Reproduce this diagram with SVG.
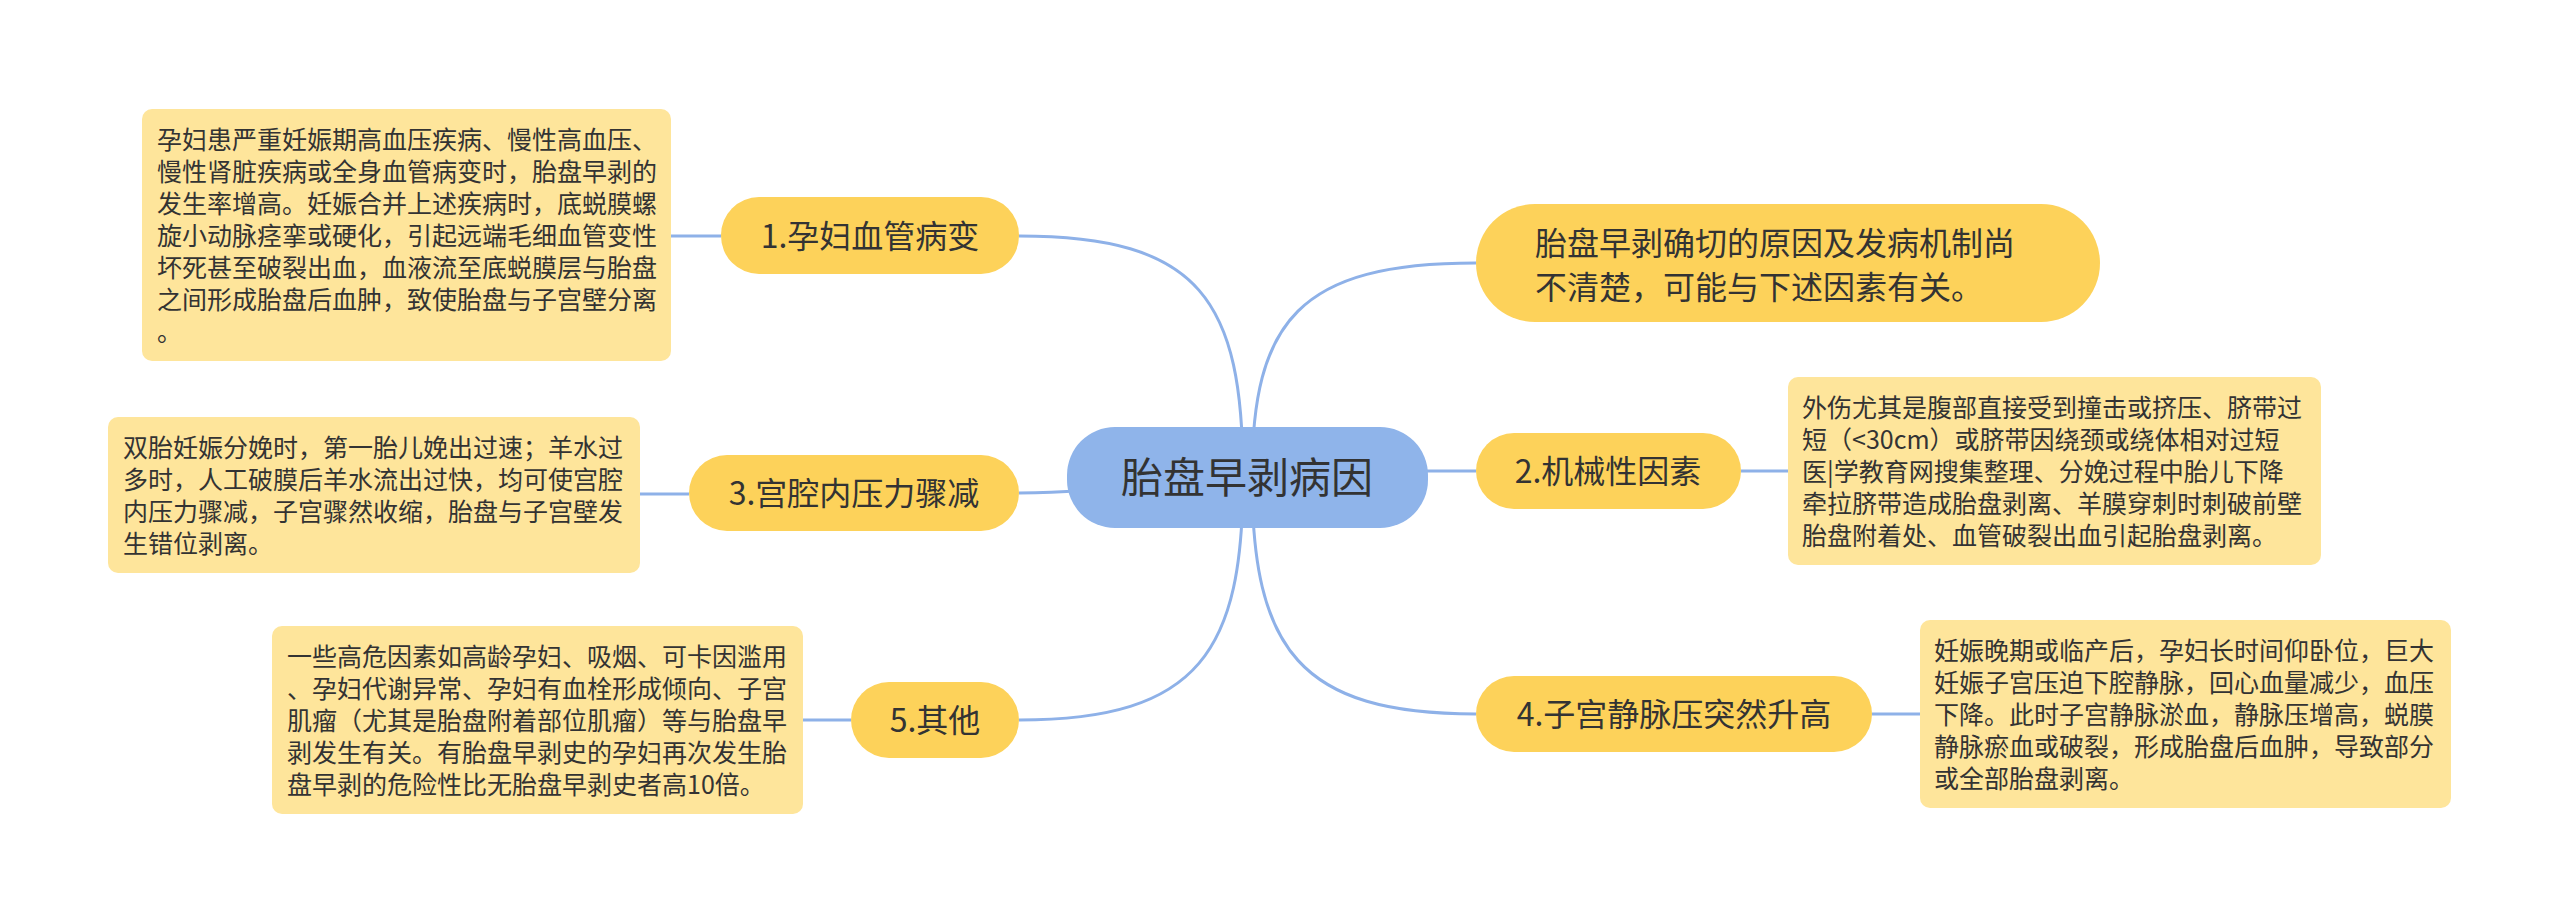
<svg xmlns="http://www.w3.org/2000/svg" width="2560" height="923" viewBox="0 0 2560 923">
<style>
text{font-family:"Noto Sans CJK SC","Noto Sans",sans-serif;fill:#333}
.edge{fill:none;stroke:#8EB1E8;stroke-width:3}
.box{fill:#FEE59B}
.br{fill:#FDD25A}
.t25{font-size:25px}
.t32{font-size:32px}
.mid{text-anchor:middle}
</style>
<rect width="2560" height="923" fill="#fff"/>
<g id="connectors">
<path class="edge" d="M1243,477 C1243,300 1200,236 1019,236"/>
<path class="edge" d="M1252,477 C1252,320 1300,263 1476,263"/>
<path class="edge" d="M1247,477 C1140,477 1120,493 1019,493"/>
<path class="edge" d="M1247,471 L1476,471"/>
<path class="edge" d="M1243,477 C1243,650 1200,720 1019,720"/>
<path class="edge" d="M1252,477 C1252,650 1300,714 1476,714"/>
<path class="edge" d="M721,236 L671,236"/>
<path class="edge" d="M689,494 L640,494"/>
<path class="edge" d="M851,720 L803,720"/>
<path class="edge" d="M1741,471 L1788,471"/>
<path class="edge" d="M1872,714 L1920,714"/>
</g>
<g id="root">
<rect x="1067" y="427" width="361" height="101" rx="48" fill="#8FB4EA"/>
<text x="1247" y="493" class="mid" font-size="42">胎盘早剥病因</text>
</g>
<g id="intro">
<rect x="1476" y="204" width="624" height="118" rx="59" class="br"/>
<text class="t32" x="1535" y="255">胎盘早剥确切的原因及发病机制尚</text>
<text class="t32" x="1535" y="299">不清楚，可能与下述因素有关。</text>
</g>
<g id="n1">
<rect x="721" y="197" width="298" height="77" rx="38" class="br"/>
<text class="t32 mid" x="870" y="248">1.孕妇血管病变</text>
</g>
<g id="n1d">
<rect x="142" y="109" width="529" height="252" rx="10" class="box"/>
<text class="t25" x="157" y="149">孕妇患严重妊娠期高血压疾病、慢性高血压、</text>
<text class="t25" x="157" y="181">慢性肾脏疾病或全身血管病变时，胎盘早剥的</text>
<text class="t25" x="157" y="213">发生率增高。妊娠合并上述疾病时，底蜕膜螺</text>
<text class="t25" x="157" y="245">旋小动脉痉挛或硬化，引起远端毛细血管变性</text>
<text class="t25" x="157" y="277">坏死甚至破裂出血，血液流至底蜕膜层与胎盘</text>
<text class="t25" x="157" y="309">之间形成胎盘后血肿，致使胎盘与子宫壁分离</text>
<text class="t25" x="157" y="341">。</text>
</g>
<g id="n2">
<rect x="1476" y="433" width="265" height="76" rx="38" class="br"/>
<text class="t32 mid" x="1608" y="483">2.机械性因素</text>
</g>
<g id="n2d">
<rect x="1788" y="377" width="533" height="188" rx="10" class="box"/>
<text class="t25" x="1802" y="417">外伤尤其是腹部直接受到撞击或挤压、脐带过</text>
<text class="t25" x="1802" y="449">短（&lt;30cm）或脐带因绕颈或绕体相对过短</text>
<text class="t25" x="1802" y="481">医|学教育网搜集整理、分娩过程中胎儿下降</text>
<text class="t25" x="1802" y="513">牵拉脐带造成胎盘剥离、羊膜穿刺时刺破前壁</text>
<text class="t25" x="1802" y="545">胎盘附着处、血管破裂出血引起胎盘剥离。</text>
</g>
<g id="n3">
<rect x="689" y="455" width="330" height="76" rx="38" class="br"/>
<text class="t32 mid" x="854" y="505">3.宫腔内压力骤减</text>
</g>
<g id="n3d">
<rect x="108" y="417" width="532" height="156" rx="10" class="box"/>
<text class="t25" x="123" y="457">双胎妊娠分娩时，第一胎儿娩出过速；羊水过</text>
<text class="t25" x="123" y="489">多时，人工破膜后羊水流出过快，均可使宫腔</text>
<text class="t25" x="123" y="521">内压力骤减，子宫骤然收缩，胎盘与子宫壁发</text>
<text class="t25" x="123" y="553">生错位剥离。</text>
</g>
<g id="n4">
<rect x="1476" y="676" width="396" height="76" rx="38" class="br"/>
<text class="t32 mid" x="1674" y="726">4.子宫静脉压突然升高</text>
</g>
<g id="n4d">
<rect x="1920" y="620" width="531" height="188" rx="10" class="box"/>
<text class="t25" x="1934" y="660">妊娠晚期或临产后，孕妇长时间仰卧位，巨大</text>
<text class="t25" x="1934" y="692">妊娠子宫压迫下腔静脉，回心血量减少，血压</text>
<text class="t25" x="1934" y="724">下降。此时子宫静脉淤血，静脉压增高，蜕膜</text>
<text class="t25" x="1934" y="756">静脉瘀血或破裂，形成胎盘后血肿，导致部分</text>
<text class="t25" x="1934" y="788">或全部胎盘剥离。</text>
</g>
<g id="n5">
<rect x="851" y="682" width="168" height="76" rx="38" class="br"/>
<text class="t32 mid" x="935" y="732">5.其他</text>
</g>
<g id="n5d">
<rect x="272" y="626" width="531" height="188" rx="10" class="box"/>
<text class="t25" x="287" y="666">一些高危因素如高龄孕妇、吸烟、可卡因滥用</text>
<text class="t25" x="287" y="698">、孕妇代谢异常、孕妇有血栓形成倾向、子宫</text>
<text class="t25" x="287" y="730">肌瘤（尤其是胎盘附着部位肌瘤）等与胎盘早</text>
<text class="t25" x="287" y="762">剥发生有关。有胎盘早剥史的孕妇再次发生胎</text>
<text class="t25" x="287" y="794">盘早剥的危险性比无胎盘早剥史者高10倍。</text>
</g>
</svg>
